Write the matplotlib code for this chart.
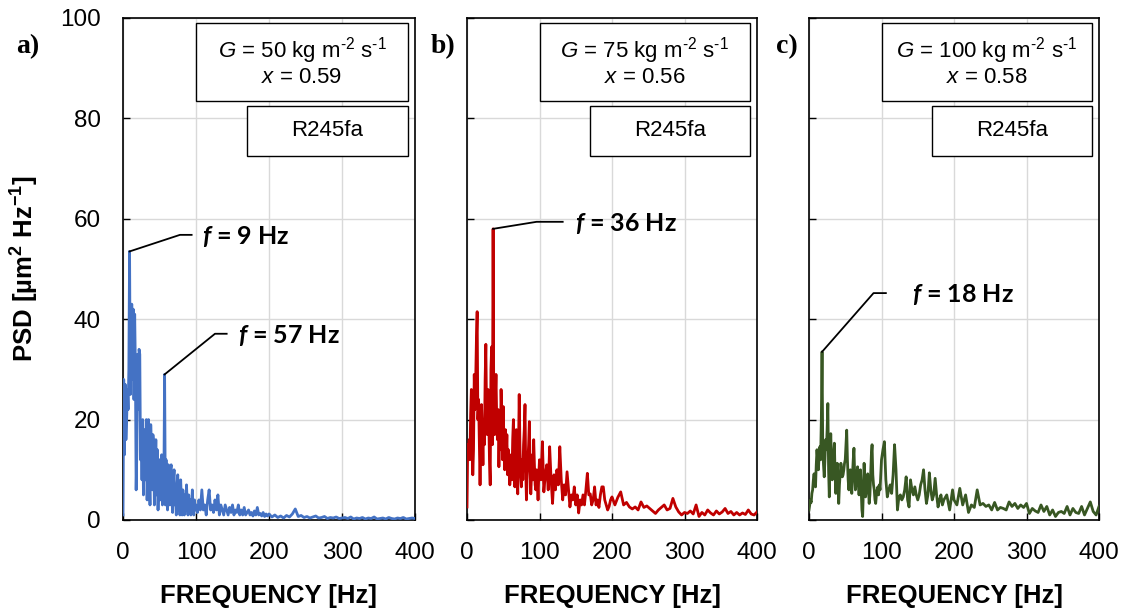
import matplotlib
matplotlib.use("Agg")
import matplotlib.pyplot as plt
from matplotlib.patches import Rectangle
import numpy as np

plt.rcParams['font.family'] = ['Liberation Sans', 'DejaVu Sans']
plt.rcParams['mathtext.fontset'] = 'custom'
plt.rcParams['mathtext.rm'] = 'Liberation Sans'
plt.rcParams['mathtext.it'] = 'Liberation Sans:italic'
plt.rcParams['mathtext.bf'] = 'Liberation Sans:bold'
plt.rcParams['mathtext.bfit'] = 'Lato:italic:bold'

# frequency grid [Hz]: 1 Hz up to 100, 2 Hz up to 200, 4 Hz up to 400
freq = np.concatenate([np.arange(0, 101), np.arange(102, 201, 2), np.arange(204, 401, 4)])

# PSD values [um^2/Hz]
a_lo = [1, 28, 13, 27, 16, 20, 26, 22, 30, 53.5,
        25, 34, 43, 28, 42, 24, 41, 30, 6, 14,
        33, 22, 34, 33, 12, 18, 8, 20, 5, 13,
        18, 8, 20, 4, 12, 20, 9, 3, 19, 14,
        6, 17, 15, 3, 10, 16, 5, 14, 2, 9,
        12, 4, 7, 13, 3, 9, 8, 29, 3, 12,
        5, 2, 11, 6, 3, 10, 11, 4, 1.5, 8,
        10, 3, 6, 1, 7, 9, 2, 5, 1, 8,
        4, 1, 6, 3, 1, 5, 2, 7, 3, 1,
        5, 2, 4, 1, 3, 6, 2, 1, 4, 2,
        3]
a_mid = [1.5, 4, 2, 6, 2, 3, 1, 4, 6, 2,
         3, 1.5, 4, 2, 5, 1, 3, 2, 1, 3,
         2, 1, 2.5, 1.5, 3, 1, 2, 1.5, 3, 1,
         2, 1, 2.5, 1, 1.5, 2, 1, 1.5, 0.8, 1.8,
         1, 2.5, 1, 1.3, 0.8, 1.5, 0.7, 1.2, 0.8, 1.2]
a_hi = [0.6, 1.0, 0.5, 0.8, 0.4, 0.9, 0.6, 1.2, 2.2, 0.7,
        0.9, 0.5, 0.7, 0.4, 0.6, 0.8, 0.4, 0.5, 0.7, 0.3,
        0.5, 0.4, 0.6, 0.3, 0.4, 0.5, 0.3, 0.6, 0.2, 0.4,
        0.3, 0.5, 0.2, 0.4, 0.3, 0.6, 0.2, 0.3, 0.4, 0.2,
        0.5, 0.3, 0.2, 0.4, 0.3, 0.5, 0.2, 0.3, 0.4, 0.3]

b_lo = [2.6, 15, 13, 16, 12, 21, 26, 18, 9, 14,
        29, 22, 28, 36, 41.5, 20, 24, 15, 7, 16,
        23, 18, 11, 20, 15, 28, 35, 21, 17, 26,
        20, 12, 7, 30, 34.5, 15, 58, 20, 17, 24,
        29, 20, 16, 22, 10.6, 18, 14, 26, 20, 12,
        22.6, 15, 10, 18, 12, 17, 9, 14, 12, 7,
        9.4, 13, 8, 16, 20, 10, 6.6, 12, 18, 9,
        5.2, 14, 25, 15, 9, 6.6, 12, 8, 15, 18,
        23, 10, 4, 9, 12, 15, 19.6, 10, 5.2, 9,
        13, 8, 16, 11, 7, 6, 10, 8, 4, 9,
        12]
b_mid = [8, 15.6, 5.6, 9, 11, 6, 14.6, 8, 3.3, 9,
         6, 10, 7, 14.6, 8, 4, 7, 5, 9.6, 6,
         2.6, 5, 4, 6.6, 3, 5, 1.4, 4, 3, 5,
         3, 6, 9.3, 5, 5.2, 3, 4, 6.6, 3, 4,
         2.5, 5, 6.6, 6.6, 4, 3, 2, 2.7, 4, 4.6]
b_hi = [3, 4.5, 5.6, 3, 3.5, 2.6, 2.2, 2.6, 2.0, 3.6,
        2.5, 2.8, 2.3, 1.8, 1.3, 2.0, 2.5, 3, 2.0, 2.3,
        4.3, 2.6, 1.6, 1.0, 1.5, 1.3, 1.8, 1.2, 3.0, 0.7,
        1.5, 1.0, 2.0, 1.4, 1.0, 1.8, 1.2, 1.6, 2.3, 1.3,
        1.7, 1.0, 1.5, 1.0, 1.4, 1.1, 2.0, 1.2, 1.0, 1.6]

c_lo = [2, 3, 4, 3.5, 5.3, 6, 8, 9.2, 7, 6.6,
        11, 14, 12, 10, 13, 14.6, 12, 20, 33.5, 14,
        11, 8.6, 12, 16, 14, 18, 23.2, 10, 4.6, 12,
        17.2, 12, 8, 11, 13, 15.3, 9, 5.3, 8, 11.3,
        7, 3.3, 7, 9, 11.3, 10, 8.6, 9, 10, 11.3,
        12, 15, 17.9, 12, 8, 6, 8, 10, 8, 5.3,
        9, 12, 14.3, 9, 6, 8, 9, 10.6, 7, 5,
        7, 10, 6, 2, 0.7, 6, 11.3, 8, 4.6, 6,
        8, 9.2, 6, 3.3, 5, 9, 13, 15, 9, 7,
        6, 4, 3.3, 5, 6, 6.6, 5, 7, 6, 9,
        12]
c_mid = [14, 15.6, 8, 4.6, 6, 7, 5.3, 9, 15, 10,
         2, 4.6, 5, 4, 4.6, 6, 8.6, 4, 2.6, 8,
         6, 5, 6.6, 5, 4, 5, 7, 8, 10, 6,
         3.3, 5, 9.4, 6, 4, 5, 8.3, 5, 2.6, 4,
         5, 3, 4, 4.5, 5, 3.5, 2, 4, 6, 4]
c_hi = [3, 6.3, 3, 5, 1.5, 3, 2.5, 6, 3, 3.3,
        2.7, 3, 2, 3.5, 2, 2.5, 2.3, 2, 3.6, 2.7,
        3.3, 2.3, 3, 2.5, 3.3, 1.3, 2.3, 1.8, 1.5, 3,
        1.7, 2.7, 1, 2, 0.7, 1.5, 1.7, 1.3, 2.7, 1,
        2.3, 1.5, 1.3, 2.7, 1, 2.3, 3.6, 1.7, 1, 2.7]

psd_a = np.array(a_lo + a_mid + a_hi)
psd_b = np.array(b_lo + b_mid + b_hi)
psd_c = np.array(c_lo + c_mid + c_hi)

panel_tags = ['a)', 'b)', 'c)']
mass_flux = [50, 75, 100]
quality = ['0.59', '0.56', '0.58']
fluid = 'R245fa'
colors = ['#4472C4', '#C00000', '#385723']
# peaks labelled in each panel: frequency, elbow of leader (x, y), end x, text x
peaks = [[(9, 78, 56.8, 94, 108), (57, 126, 37.1, 142, 157)],
         [(36, 96, 59.4, 132, 149)],
         [(18, 89, 45.2, 106, 142)]]

fig = plt.figure(figsize=(11.25, 6.14), dpi=100)
lefts = [123 / 1125, 467 / 1125, 809 / 1125]
widths = [292 / 1125, 290 / 1125, 290 / 1125]
tag_x = [16 / 1125, 431 / 1125, 776 / 1125]

for i, psd in enumerate([psd_a, psd_b, psd_c]):
    ax = fig.add_axes([lefts[i], 1 - 520 / 614, widths[i], 502 / 614])
    ax.plot(freq, psd, color=colors[i], lw=2.0, zorder=3)
    ax.set_xlim(0, 400)
    ax.set_ylim(0, 100)
    ax.set_xticks(range(0, 401, 100))
    ax.set_yticks(range(0, 101, 20))
    ax.grid(color='#D9D9D9', lw=1)
    ax.set_axisbelow(True)
    ax.tick_params(direction='in', length=5, width=1, labelsize=17.5, pad=16)
    ax.tick_params(axis='y', pad=16)
    for s in ax.spines.values():
        s.set_linewidth(1.2)
        s.set_color('black')
    ax.set_xlabel('FREQUENCY [Hz]', fontsize=18.5, fontweight='bold', labelpad=14)
    if i == 0:
        ax.set_ylabel(r'PSD [µm$^\mathbf{2}$ Hz$^\mathbf{-1}$]', fontsize=18.5,
                      fontweight='bold', labelpad=14)
    else:
        ax.tick_params(labelleft=False)

    # info boxes
    ax.add_patch(Rectangle((0.25, 0.835), 0.726, 0.155, transform=ax.transAxes,
                           fc='white', ec='black', lw=1, zorder=5))
    ax.add_patch(Rectangle((0.425, 0.725), 0.551, 0.1, transform=ax.transAxes,
                           fc='white', ec='black', lw=1, zorder=5))
    ax.text(0.613, 0.936, r'$G$ = %d kg m$^{\text{-2}}$ s$^{\text{-1}}$' % mass_flux[i],
            transform=ax.transAxes, ha='center', va='center', fontsize=16, zorder=6)
    ax.text(0.613, 0.882, r'$x$ = ' + quality[i], transform=ax.transAxes,
            ha='center', va='center', fontsize=16, zorder=6)
    ax.text(0.70, 0.775, fluid, transform=ax.transAxes, ha='center', va='center',
            fontsize=16, zorder=6)

    for fp, ex, ey, endx, tx in peaks[i]:
        k = int(np.where(freq == fp)[0][0])
        ax.plot([fp, ex, endx], [psd[k], ey, ey], color='black', lw=1.3, zorder=4)
        ax.text(tx, ey - 0.3, r'$\mathbfit{f}$ = %d Hz' % fp, family='Lato',
                fontweight='bold', fontsize=18, va='center', ha='left', zorder=6)

    fig.text(tag_x[i], 1 - 47 / 614, panel_tags[i], family='Liberation Serif',
             fontweight='bold', fontsize=20, va='center', ha='left')

fig.savefig('out.png', dpi=100)
